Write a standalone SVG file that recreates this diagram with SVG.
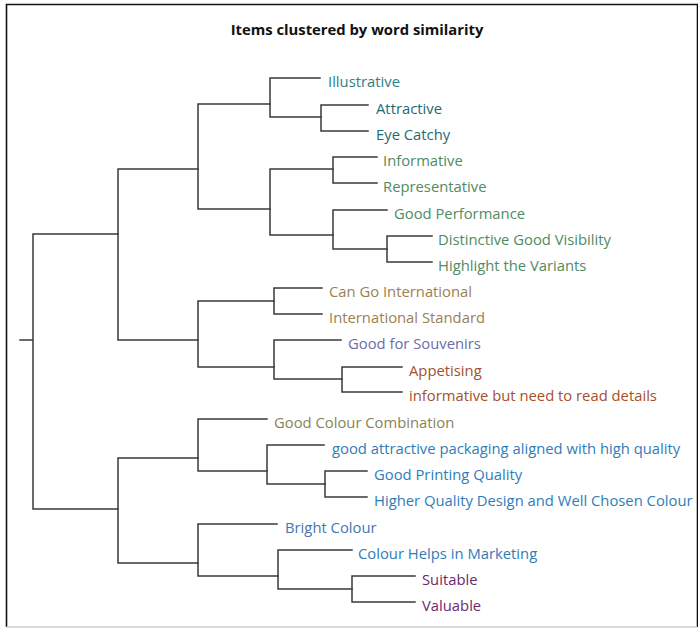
<svg xmlns="http://www.w3.org/2000/svg" width="698" height="628" viewBox="0 0 698 628">
  <style>
    .frame { fill: none; stroke: #111; stroke-width: 1.6; }
    .base { fill: none; stroke: #cfcfcf; stroke-width: 1.4; }
    .edge { fill: none; stroke: #3a3a3a; stroke-width: 1.5; stroke-linecap: square; }
    .title { font-family: "Open Sans", "Noto Sans", sans-serif; font-weight: bold; font-size: 14.8px; fill: #111; }
    .lbl { font-family: "Open Sans", "Noto Sans", sans-serif; font-size: 14.8px; }
    .teal { fill: #2f8083; }
    .tealdk { fill: #1e6b74; }
    .green { fill: #4f8b63; }
    .tan { fill: #9a8152; }
    .violet { fill: #6a6ea8; }
    .rust { fill: #a3512c; }
    .olive { fill: #868559; }
    .blue { fill: #2f7db8; }
    .blue2 { fill: #4676b0; }
    .plum { fill: #6b2a6e; }
  </style>

  <rect width="698" height="628" fill="#ffffff"/>
  <!-- panel frame -->
  <path class="frame" d="M6.5,627 V4.5 H697.5 V627"/>
  <path class="base" d="M6.5,627 H697"/>

  <text class="title" x="357" y="35" text-anchor="middle">Items clustered by word similarity</text>

  <!-- dendrogram links -->
  <g id="connectors">
    <path class="edge" d="M20,340 H33 M33,234 V509 M33,234 H118 M33,509 H118"/>
    <!-- upper branch -->
    <path class="edge" d="M118,169 V340 M118,169 H198 M118,340 H198"/>
    <path class="edge" d="M198,104 V209 M198,104 H270 M198,209 H270"/>
    <path class="edge" d="M270,78 V117 M270,78 H320 M270,117 H321"/>
    <path class="edge" d="M321,105 V131 M321,105 H368 M321,131 H368"/>
    <path class="edge" d="M270,169 V235 M270,169 H333 M270,235 H333"/>
    <path class="edge" d="M333,157 V183 M333,157 H377 M333,183 H377"/>
    <path class="edge" d="M333,210 V249 M333,210 H387 M333,249 H387"/>
    <path class="edge" d="M387,236 V262 M387,236 H432 M387,262 H432"/>
    <path class="edge" d="M198,301 V367 M198,301 H274 M198,367 H274"/>
    <path class="edge" d="M274,288 V314 M274,288 H322 M274,314 H322"/>
    <path class="edge" d="M274,340 V379 M274,340 H341 M274,379 H342"/>
    <path class="edge" d="M342,367 V392 M342,367 H402 M342,392 H402"/>
    <!-- lower branch -->
    <path class="edge" d="M118,458 V563 M118,458 H198 M118,563 H198"/>
    <path class="edge" d="M198,419 V471 M198,419 H267 M198,471 H267"/>
    <path class="edge" d="M267,445 V484 M267,445 H324 M267,484 H325"/>
    <path class="edge" d="M325,471 V497 M325,471 H367 M325,497 H367"/>
    <path class="edge" d="M198,524 V576 M198,524 H277 M198,576 H278"/>
    <path class="edge" d="M278,550 V589 M278,550 H352 M278,589 H352"/>
    <path class="edge" d="M352,576 V602 M352,576 H415 M352,602 H415"/>
  </g>

  <!-- leaves -->
  <g id="leaf-illustrative"><text class="lbl teal" x="328" y="87">Illustrative</text></g>
  <g id="leaf-attractive"><text class="lbl tealdk" x="376" y="114">Attractive</text></g>
  <g id="leaf-eye-catchy"><text class="lbl tealdk" x="376" y="140">Eye Catchy</text></g>
  <g id="leaf-informative"><text class="lbl green" x="383" y="166">Informative</text></g>
  <g id="leaf-representative"><text class="lbl green" x="383" y="192">Representative</text></g>
  <g id="leaf-good-performance"><text class="lbl green" x="394" y="219">Good Performance</text></g>
  <g id="leaf-distinctive"><text class="lbl green" x="438" y="245">Distinctive Good Visibility</text></g>
  <g id="leaf-highlight"><text class="lbl green" x="438" y="271">Highlight the Variants</text></g>
  <g id="leaf-can-go"><text class="lbl tan" x="329" y="297">Can Go International</text></g>
  <g id="leaf-intl-standard"><text class="lbl tan" x="329" y="323">International Standard</text></g>
  <g id="leaf-souvenirs"><text class="lbl violet" x="348" y="349">Good for Souvenirs</text></g>
  <g id="leaf-appetising"><text class="lbl rust" x="409" y="376">Appetising</text></g>
  <g id="leaf-read-details"><text class="lbl rust" x="409" y="401">informative but need to read details</text></g>
  <g id="leaf-colour-combination"><text class="lbl olive" x="274" y="428">Good Colour Combination</text></g>
  <g id="leaf-packaging"><text class="lbl blue" x="332" y="454">good attractive packaging aligned with high quality</text></g>
  <g id="leaf-printing"><text class="lbl blue" x="374" y="480">Good Printing Quality</text></g>
  <g id="leaf-design"><text class="lbl blue" x="374" y="506">Higher Quality Design and Well Chosen Colour</text></g>
  <g id="leaf-bright"><text class="lbl blue2" x="285" y="533">Bright Colour</text></g>
  <g id="leaf-marketing"><text class="lbl blue" x="358" y="559">Colour Helps in Marketing</text></g>
  <g id="leaf-suitable"><text class="lbl plum" x="422" y="585">Suitable</text></g>
  <g id="leaf-valuable"><text class="lbl plum" x="422" y="611">Valuable</text></g>
</svg>
